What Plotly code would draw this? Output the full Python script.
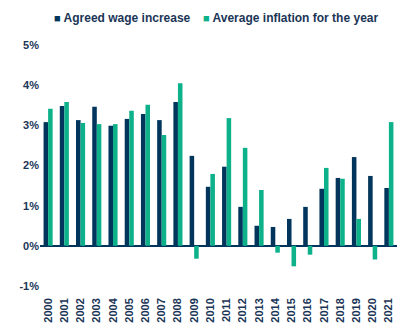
import plotly.graph_objects as go

years = [str(y) for y in range(2000, 2022)]
wage_increase = [3.08, 3.48, 3.13, 3.46, 2.99, 3.16, 3.28, 3.13, 3.58, 2.24, 1.47,
                 1.97, 0.97, 0.50, 0.47, 0.67, 0.97, 1.42, 1.69, 2.21, 1.74, 1.44]
inflation = [3.41, 3.58, 3.06, 3.03, 3.03, 3.36, 3.51, 2.76, 4.05, -0.32, 1.79,
             3.18, 2.44, 1.39, -0.17, -0.51, -0.22, 1.94, 1.67, 0.67, -0.34, 3.08]
y_ticks = [-1, 0, 1, 2, 3, 4, 5]
y_tick_text = ["-1%", "0%", "1%", "2%", "3%", "4%", "5%"]
series_names = ["Agreed wage increase", "Average inflation for the year"]

navy = "#01355C"
green = "#0DB18A"
text_color = "#1B3556"
font_family = "Liberation Sans, Arial, sans-serif"

W, H = 411, 329
M = dict(l=40, r=14, t=45, b=43)
plot_w = W - M["l"] - M["r"]
plot_h = H - M["t"] - M["b"]

fig = go.Figure()
fig.add_trace(go.Bar(name=series_names[0], x=years, y=wage_increase,
                     marker=dict(color=navy, line=dict(width=0))))
fig.add_trace(go.Bar(name=series_names[1], x=years, y=inflation,
                     marker=dict(color=green, line=dict(width=0))))

# Legend drawn as a single row of swatch + label annotations above the plot
legend_items = [(series_names[0], navy, 52), (series_names[1], green, 201)]
annotations = []
for name, color, px in legend_items:
    annotations.append(dict(
        text=f"<span style='color:{color};font-size:11px'>■</span> {name}",
        xref="paper", yref="paper",
        x=(px - M["l"]) / plot_w, y=1 + (M["t"] - 18) / plot_h,
        xanchor="left", yanchor="middle", showarrow=False,
        font=dict(size=12, weight="bold", color=text_color),
    ))

fig.update_layout(
    width=W, height=H,
    margin=M,
    paper_bgcolor="white", plot_bgcolor="white",
    barmode="group", bargap=0.44, bargroupgap=0,
    font=dict(family=font_family, color=text_color, size=12, weight="bold"),
    showlegend=False,
    annotations=annotations,
    xaxis=dict(type="category", tickangle=-90, showgrid=False, showline=False,
               automargin=False,
               ticks="", tickfont=dict(size=11, weight="bold"), ticklabelstandoff=9),
    yaxis=dict(range=[-1, 5], tickvals=y_ticks, ticktext=y_tick_text, showgrid=False,
               automargin=False,
               zeroline=True, zerolinecolor=navy, zerolinewidth=2, showline=False,
               ticks="", tickfont=dict(size=11, weight="bold")),
)

fig.write_html("out.html")
